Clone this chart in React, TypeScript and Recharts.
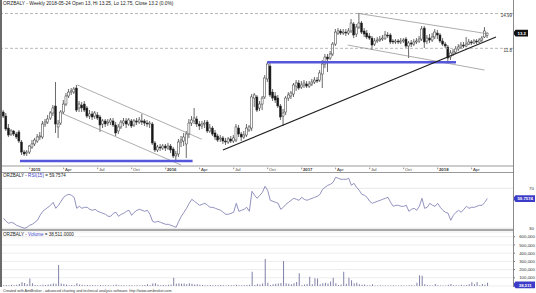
import React from "react";
import { ComposedChart, Bar, Line, XAxis, YAxis, ReferenceLine, CartesianGrid } from "recharts";

const ticker = "ORZBALY";
const lastDate = "2018-05-24";

// weekly OHLC, oldest first (late Oct 2014 -> 2018-05-21)
const opens = [
  5.96, 5.59, 4.49, 3.94, 4.22, 3.94, 4.13, 3.21, 2.29, 2.2,
  2.29, 2.75, 3.03, 3.3, 3.67, 3.67, 4.86, 5.04, 5.41, 5.87,
  6.51, 4.59, 4.95, 5.96, 6.69, 7.43, 7.79, 7.79, 8.16, 6.33,
  6.6, 6.69, 6.33, 5.59, 5.78, 5.59, 5.69, 5.5, 4.86, 5.14,
  4.95, 5.04, 5.14, 4.77, 4.22, 4.59, 4.95, 5.14, 4.86, 5.14,
  4.77, 5.14, 5.04, 5.14, 5.14, 4.95, 4.86, 4.86, 3.12, 2.48,
  2.75, 2.66, 2.84, 2.66, 2.84, 2.57, 1.93, 2.11, 3.21, 3.3,
  3.03, 3.94, 4.95, 5.14, 5.32, 4.86, 4.68, 4.86, 5.04, 4.22,
  4.49, 4.04, 3.76, 3.49, 3.58, 3.3, 3.21, 3.49, 3.3, 3.39,
  4.49, 3.94, 3.67, 3.85, 4.31, 4.49, 7.24, 7.34, 6.33, 6.69,
  7.34, 8.99, 10.18, 7.79, 7.43, 7.24, 6.51, 5.59, 5.96, 7.24,
  7.43, 7.61, 8.34, 8.62, 8.25, 8.44, 8.53, 8.34, 8.53, 8.71,
  8.89, 8.89, 9.44, 10.36, 11.0, 10.91, 11.28, 12.19, 13.2, 13.39,
  13.2, 13.29, 13.2, 13.39, 14.03, 13.11, 13.75, 14.12, 13.39, 13.2,
  12.93, 12.74, 12.19, 12.47, 12.56, 12.65, 12.74, 13.02, 13.02, 12.47,
  12.38, 12.47, 12.38, 12.47, 12.65, 12.01, 12.29, 12.19, 12.38, 12.47,
  12.65, 13.66, 12.47, 12.74, 12.56, 12.84, 13.2, 13.02, 12.47, 12.19,
  11.92, 11.0, 11.28, 11.46, 11.74, 11.92, 12.1, 12.01, 12.19, 12.38,
  12.29, 12.47, 12.38, 12.56, 12.84, 13,
];
const highs = [
  6.14, 5.87, 4.86, 4.4, 4.31, 4.13, 4.31, 3.39, 2.48, 2.48,
  2.94, 3.39, 3.58, 3.94, 4.13, 5.14, 5.32, 5.69, 6.05, 6.6,
  8.71, 5.23, 6.14, 7.06, 7.7, 8.07, 8.16, 8.25, 8.44, 6.97,
  6.88, 6.97, 6.51, 6.14, 6.05, 6.05, 5.96, 5.69, 5.32, 5.32,
  5.32, 5.41, 5.41, 5.04, 4.86, 5.23, 5.41, 5.41, 5.41, 5.32,
  5.32, 5.41, 5.5, 5.78, 5.32, 5.23, 5.14, 5.04, 3.3, 2.94,
  3.03, 3.03, 3.03, 3.12, 3.03, 2.75, 2.39, 3.49, 3.76, 4.04,
  4.22, 5.32, 5.59, 6.33, 5.59, 5.14, 5.14, 5.23, 5.23, 4.86,
  4.68, 4.31, 3.94, 3.85, 3.76, 3.58, 3.67, 3.76, 3.85, 4.86,
  4.77, 4.13, 4.22, 4.86, 4.77, 7.61, 7.7, 7.52, 6.97, 7.43,
  9.35, 10.54, 10.45, 8.07, 7.79, 7.52, 6.69, 6.24, 7.43, 7.79,
  7.89, 8.62, 8.89, 8.89, 8.8, 8.89, 8.8, 8.8, 8.99, 9.17,
  9.17, 9.81, 10.73, 11.28, 11.28, 11.55, 12.38, 13.57, 13.66, 13.57,
  13.57, 13.57, 13.66, 14.49, 14.21, 14.03, 15.04, 14.3, 13.66, 13.48,
  13.2, 12.93, 12.74, 12.84, 12.93, 13.02, 13.39, 13.29, 13.2, 12.65,
  12.65, 12.65, 12.74, 12.74, 12.84, 12.47, 12.56, 12.65, 12.74, 12.93,
  13.84, 13.84, 13.02, 13.11, 13.2, 13.57, 13.48, 13.2, 12.74, 12.38,
  12.1, 11.64, 11.74, 12.01, 12.19, 12.38, 12.38, 12.84, 12.65, 12.56,
  12.65, 12.65, 12.74, 12.93, 13.75, 13.25,
];
const lows = [
  5.41, 4.22, 3.67, 3.76, 3.76, 3.49, 3.12, 2.02, 1.93, 1.93,
  2.11, 2.57, 2.84, 3.12, 3.39, 3.49, 4.59, 4.86, 5.23, 5.59,
  4.04, 3.58, 4.77, 5.78, 6.51, 7.24, 7.52, 7.61, 5.96, 5.96,
  5.96, 5.96, 5.41, 5.32, 5.23, 5.32, 5.23, 4.13, 4.49, 4.59,
  4.68, 4.77, 4.59, 3.76, 3.94, 4.4, 4.68, 4.49, 4.68, 4.49,
  4.59, 4.77, 4.86, 4.77, 4.68, 4.59, 4.49, 2.94, 2.29, 2.29,
  2.39, 2.48, 2.39, 2.48, 2.2, 1.74, 1.56, 1.84, 2.75, 2.84,
  1.74, 3.58, 4.68, 4.86, 4.59, 4.31, 4.4, 4.49, 4.04, 4.04,
  3.76, 3.39, 3.21, 3.21, 3.03, 2.94, 3.03, 3.12, 3.12, 3.21,
  3.67, 3.3, 3.49, 3.67, 4.13, 4.22, 6.42, 5.96, 6.05, 6.14,
  7.15, 8.71, 7.34, 6.97, 6.79, 6.33, 5.23, 4.68, 5.69, 6.97,
  7.15, 7.34, 7.89, 7.98, 8.07, 8.16, 8.16, 8.16, 8.34, 8.53,
  8.62, 8.71, 8.16, 9.99, 9.63, 10.73, 11.09, 12.01, 13.02, 13.02,
  13.02, 12.93, 13.02, 13.2, 12.74, 12.84, 13.57, 13.11, 12.84, 12.65,
  12.56, 11.64, 12.01, 12.29, 12.38, 12.47, 12.56, 12.74, 12.19, 12.19,
  12.19, 12.19, 12.19, 12.29, 11.83, 10.91, 11.92, 12.01, 12.19, 12.29,
  12.47, 11.83, 12.19, 12.29, 12.38, 12.65, 12.65, 12.29, 12.01, 11.83,
  10.54, 10.73, 11.09, 11.28, 11.55, 11.74, 11.83, 11.92, 12.1, 12.1,
  12.19, 12.19, 12.29, 12.38, 12.74, 12.75,
];
const closes = [
  5.59, 4.4, 3.85, 4.22, 3.94, 3.67, 3.3, 2.29, 2.11, 2.29,
  2.84, 3.03, 3.39, 3.67, 3.76, 4.86, 5.04, 5.32, 5.87, 6.33,
  4.86, 4.86, 5.96, 6.69, 7.43, 7.79, 7.89, 8.07, 6.14, 6.69,
  6.33, 6.14, 5.59, 5.78, 5.5, 5.87, 5.41, 4.77, 5.14, 4.86,
  5.04, 5.23, 4.77, 4.04, 4.59, 5.04, 5.14, 4.86, 5.23, 4.68,
  5.14, 5.04, 5.23, 5.04, 4.95, 4.86, 4.95, 3.12, 2.48, 2.75,
  2.66, 2.84, 2.66, 2.84, 2.48, 1.93, 2.11, 3.21, 3.39, 3.67,
  3.94, 4.95, 5.23, 5.41, 4.86, 4.68, 4.86, 4.95, 4.22, 4.49,
  3.94, 3.67, 3.39, 3.58, 3.3, 3.21, 3.49, 3.3, 3.58, 4.59,
  3.94, 3.67, 3.85, 4.49, 4.59, 7.34, 7.52, 6.14, 6.69, 7.24,
  9.08, 10.36, 7.52, 7.24, 7.06, 6.51, 5.5, 5.87, 7.24, 7.52,
  7.7, 8.44, 8.62, 8.16, 8.44, 8.62, 8.34, 8.53, 8.71, 8.89,
  8.8, 9.54, 10.36, 11.0, 10.82, 11.28, 12.19, 13.29, 13.39, 13.2,
  13.29, 13.2, 13.39, 14.12, 13.02, 13.75, 14.12, 13.29, 13.11, 12.84,
  12.74, 12.1, 12.47, 12.56, 12.65, 12.74, 13.02, 12.93, 12.38, 12.38,
  12.47, 12.38, 12.47, 12.56, 12.01, 12.29, 12.19, 12.38, 12.47, 12.65,
  13.57, 12.38, 12.74, 12.56, 12.84, 13.29, 13.02, 12.47, 12.19, 12.01,
  10.91, 11.37, 11.46, 11.74, 11.92, 12.1, 12.01, 12.19, 12.38, 12.29,
  12.47, 12.38, 12.56, 12.74, 13.39, 13.2,
];

const rsi15 = [
  40, 37, 35, 36, 35, 33, 32, 31, 30, 31,
  33, 34, 36, 38, 43, 47, 49, 51, 53, 56,
  50, 53, 57, 61, 63, 64, 63, 61, 50, 52,
  50, 51, 51, 49, 48, 49, 47, 46, 45, 44,
  42, 42, 45, 46, 42, 44, 45, 47, 48, 43,
  46, 48, 49, 48, 47, 48, 44, 37, 36, 37,
  36, 35, 34, 34, 33, 32, 31, 37, 42, 46,
  50, 55, 59, 57, 55, 53, 54, 55, 53, 51,
  51, 50, 49, 48, 46, 44, 44, 45, 46, 55,
  47, 48, 49, 51, 47, 67, 63, 60, 63, 66,
  72, 68, 58, 57, 56, 55, 49, 51, 54, 56,
  58, 60, 59, 58, 61, 59, 58, 59, 60, 61,
  62, 64, 69, 71, 73, 74, 76, 81, 80, 79,
  79, 79, 80, 73, 75, 71, 68, 64, 63, 61,
  57, 55, 56, 57, 58, 59, 60, 61, 56, 52,
  53, 53, 52, 52, 53, 47, 49, 50, 48, 52,
  60, 50, 51, 55, 53, 52, 55, 51, 48, 46,
  45, 38, 43, 46, 48, 46, 49, 52, 50, 51,
  51, 52, 53, 53, 56, 59.7574,
];

const volumes = [
  8000, 12000, 10000, 14000, 9000, 16000, 25000, 45000, 38000, 20000,
  92000, 35000, 12000, 10000, 8000, 15000, 12000, 18000, 22000, 30000,
  28000, 255000, 30000, 25000, 18000, 10000, 12000, 8000, 32000, 18000,
  14000, 10000, 12000, 8000, 9000, 10000, 7000, 12000, 9000, 8000,
  10000, 7000, 9000, 18000, 10000, 8000, 9000, 7000, 8000, 10000,
  6000, 9000, 7000, 8000, 12000, 20000, 10000, 30000, 32000, 14000,
  10000, 12000, 9000, 14000, 18000, 100000, 28000, 32000, 26000, 30000,
  20000, 35000, 28000, 18000, 20000, 14000, 12000, 10000, 9000, 12000,
  10000, 8000, 9000, 12000, 10000, 7000, 9000, 8000, 10000, 14000,
  9000, 8000, 10000, 12000, 14000, 173000, 12000, 25000, 18000, 30000,
  328000, 40000, 12000, 20000, 28000, 30000, 38000, 304000, 35000, 28000,
  20000, 32000, 48000, 154000, 10000, 18000, 25000, 113000, 20000, 95000,
  90000, 20000, 35000, 40000, 30000, 55000, 100000, 35000, 12000, 18000,
  173000, 28000, 100000, 70000, 35000, 40000, 20000, 15000, 18000, 10000,
  8000, 20000, 6000, 5000, 8000, 6000, 5000, 7000, 6000, 8000,
  7000, 6000, 8000, 7000, 6000, 10000, 8000, 7000, 40000, 130000,
  125000, 20000, 8000, 10000, 6000, 25000, 8000, 6000, 5000, 7000,
  15000, 25000, 8000, 10000, 6000, 15000, 8000, 12000, 20000, 45000,
  20000, 50000, 10000, 25000, 15000, 38511,
];

// first week of each quarter, as week index
const dateTicks = [10, 23, 36, 49, 62, 75, 88, 101, 114, 127, 140, 153, 166, 179];
const dateLabels = ["2015", "Apr", "Jul", "Oct", "2016", "Apr", "Jul", "Oct", "2017", "Apr", "Jul", "Oct", "2018", "Apr"];

const priceTicks = [11.8, 14.99];
const rsiTicks = [30, 70];
const volumeTicks = [100000, 200000, 300000, 400000, 500000, 600000];

// hand drawn studies, in (week index, price)
const supportBands = [
  [{ x: 6.3, y: 1.47 }, { x: 72.3, y: 1.47 }],
  [{ x: 100.8, y: 10.52 }, { x: 173, y: 10.52 }],
];
const trendLine = [{ x: 83.9, y: 2.48 }, { x: 188.3, y: 12.84 }];
const channelLines = [
  [{ x: 28.2, y: 8.44 }, { x: 75.8, y: 3.46 }],
  [{ x: 22.3, y: 5.84 }, { x: 67.9, y: 1.1 }],
  [{ x: 135.4, y: 15.01 }, { x: 184.1, y: 13.17 }],
  [{ x: 131.6, y: 12.1 }, { x: 183.9, y: 9.81 }],
];

const FONT = "Arial, 'Liberation Sans', sans-serif";
const X_DOMAIN: [number, number] = [-0.57, 194.8];
const last = closes.length - 1;

const candles = opens.map((o, i) => ({
  i,
  range: [lows[i], highs[i]],
  open: o,
  high: highs[i],
  low: lows[i],
  close: closes[i],
}));
const rsiData = rsi15.map((v, i) => ({ i, rsi: v }));
const volData = volumes.map((v, i) => ({ i, vol: v }));

const Candle = (props: any) => {
  const { x, y, width, height, payload } = props;
  if (x == null || !payload) return null;
  const top = Math.min(y, y + height);
  const h = Math.abs(height);
  const cx = x + width / 2;
  const k = payload.high === payload.low ? 0 : h / (payload.high - payload.low);
  const yO = top + (payload.high - payload.open) * k;
  const yC = top + (payload.high - payload.close) * k;
  const up = payload.close >= payload.open;
  const bTop = Math.min(yO, yC);
  const bH = Math.max(Math.abs(yC - yO), 0.8);
  return (
    <g>
      <line x1={cx} x2={cx} y1={top} y2={top + h} stroke="#2a2a2a" strokeWidth={0.7} />
      <rect x={cx - 1} y={bTop} width={2} height={bH} fill={up ? "#fff" : "#151515"} stroke="#333" strokeWidth={0.5} />
    </g>
  );
};

const DateTick = (props: any) => {
  const { x, y, payload } = props;
  const label = dateLabels[dateTicks.indexOf(payload.value)] ?? "";
  const isYear = /^\d{4}$/.test(label);
  return (
    <g>
      <line x1={x} x2={x} y1={y + 1.6} y2={y + 3.2} stroke="#444" strokeWidth={0.6} />
      <text x={x + 1.3} y={y + 5.2} fontSize={4.3} fontWeight={isYear ? 700 : 400} fill="#333" fontFamily={FONT}>
        {label}
      </text>
    </g>
  );
};

const PriceTick = (props: any) => (
  <text x={props.x - 1} y={props.y + 3.2} textAnchor="end" fontSize={4.5} fill="#333" fontFamily={FONT}>
    {props.payload.value}
  </text>
);

const RightTick = (props: any) => (
  <text x={props.x + 20} y={props.y + 1.6} textAnchor="end" fontSize={4.4} fill="#333" fontFamily={FONT}>
    {Number(props.payload.value).toLocaleString("en-US")}
  </text>
);

const ValueTag = ({ viewBox, text, fill, w }: any) => {
  if (!viewBox) return null;
  const x = viewBox.x + viewBox.width;
  const y = viewBox.y;
  return (
    <g>
      <path d={`M${x},${y} L${x + 2.5},${y - 3.4} L${x + w},${y - 3.4} L${x + w},${y + 3.4} L${x + 2.5},${y + 3.4} Z`} fill={fill} />
      <text x={x + 2.5 + (w - 2.5) / 2} y={y + 1.7} textAnchor="middle" fontSize={4.3} fontWeight={700} fill="#fff" fontFamily={FONT}>
        {text}
      </text>
    </g>
  );
};

const hLine = (top: number, h: number, color: string, width = 513): React.CSSProperties => ({
  position: "absolute", left: 0, top, width, height: h, background: color,
});

export default function App() {
  const lastVol = volumes[last];
  return (
    <div style={{ position: "absolute", left: 0, top: 0, width: 536, height: 293, background: "#fff", overflow: "hidden" }}>
      <div style={{ position: "absolute", left: 0, top: 0 }}>
        <ComposedChart width={536} height={174} data={candles} margin={{ top: 6, right: 0, bottom: 0, left: 2 }}>
          <XAxis dataKey="i" type="number" domain={X_DOMAIN} allowDataOverflow ticks={dateTicks} interval={0}
            height={8} tickLine={false} tickSize={0} tickMargin={0} axisLine={{ stroke: "#9a9a9a" }} tick={(p: any) => <DateTick {...p} />} />
          <YAxis orientation="right" width={23} type="number" domain={[1.01, 15.68]} allowDataOverflow ticks={priceTicks} interval={0}
            axisLine={false} tickLine={false} tickSize={0} tickMargin={0} tick={(p: any) => <PriceTick {...p} />} />
          {priceTicks.map((t) => (
            <ReferenceLine key={t} y={t} stroke="#9a9a9a" strokeWidth={0.7} strokeDasharray="3 2" />
          ))}
          {channelLines.map((s, k) => (
            <ReferenceLine key={"c" + k} segment={s} ifOverflow="hidden" stroke="#8a8a8a" strokeWidth={0.7} />
          ))}
          {supportBands.map((s, k) => (
            <ReferenceLine key={"s" + k} segment={s} ifOverflow="hidden" stroke="#5656dc" strokeWidth={2.6} />
          ))}
          <ReferenceLine segment={trendLine} ifOverflow="hidden" stroke="#1e1e1e" strokeWidth={1.1} />
          <Bar dataKey="range" barSize={2} shape={(p: any) => <Candle {...p} />} isAnimationActive={false} />
          <ReferenceLine y={closes[last]} stroke="none"
            label={(p: any) => <ValueTag viewBox={p.viewBox} text={String(closes[last])} fill="#111" w={15} />} />
        </ComposedChart>
      </div>

      <div style={{ position: "absolute", left: 0, top: 172 }}>
        <ComposedChart width={536} height={58} data={rsiData} margin={{ top: 1, right: 0, bottom: 0, left: 2 }}>
          <XAxis dataKey="i" type="number" domain={X_DOMAIN} allowDataOverflow hide />
          <YAxis orientation="right" width={23} type="number" domain={[28.3, 85.3]} allowDataOverflow ticks={rsiTicks} interval={0}
            axisLine={false} tickLine={false} tickSize={0} tickMargin={0} tick={(p: any) => <RightTick {...p} x={p.x + 1} />} />
          {rsiTicks.map((t) => (
            <ReferenceLine key={t} y={t} stroke="#e2e2e2" strokeWidth={0.8} />
          ))}
          <Line dataKey="rsi" type="linear" stroke="#8686b8" strokeWidth={0.9} dot={false} isAnimationActive={false} />
          <ReferenceLine y={rsi15[last]} stroke="none"
            label={(p: any) => <ValueTag viewBox={p.viewBox} text={rsi15[last].toFixed(4)} fill="#3c3cc8" w={22} />} />
        </ComposedChart>
      </div>

      <div style={{ position: "absolute", left: 0, top: 231 }}>
        <ComposedChart width={536} height={60} data={volData} margin={{ top: 1, right: 0, bottom: 5, left: 2 }}>
          <CartesianGrid vertical={false} stroke="#e8e8e8" strokeWidth={0.8} />
          <XAxis dataKey="i" type="number" domain={X_DOMAIN} allowDataOverflow hide />
          <YAxis orientation="right" width={23} type="number" domain={[0, 658000]} allowDataOverflow ticks={volumeTicks} interval={0}
            axisLine={false} tickLine={{ stroke: "#777" }} tickSize={2} tickMargin={0} tick={(p: any) => <RightTick {...p} />} />
          <Bar dataKey="vol" barSize={1} fill="#8080a8" isAnimationActive={false} />
          <ReferenceLine y={lastVol} stroke="none"
            label={(p: any) => <ValueTag viewBox={{ ...p.viewBox, y: p.viewBox.y + 2 }} text={lastVol.toLocaleString("en-US")} fill="#3c3cc8" w={22} />} />
        </ComposedChart>
      </div>

      {/* panel frames */}
      <div style={hLine(172, 1, "#9a9a9a")} />
      <div style={hLine(229, 2, "#a8a8a8")} />
      <div style={{ position: "absolute", left: 512.5, top: 0, width: 1, height: 287, background: "#8a8a8a" }} />
      <div style={{ position: "absolute", left: 0, top: 0, width: 1.5, height: 287, background: "#6a6a6a" }} />

      <svg width={536} height={293} style={{ position: "absolute", left: 0, top: 0, pointerEvents: "none" }} fontFamily={FONT}>
        <text x={3} y={5} fontSize={4.8} fill="#222">
          {`${ticker} - Weekly ${lastDate} Open ${opens[last]}, Hi ${highs[last]}, Lo ${lows[last]}, Close ${closes[last]} (0.0%)`}
        </text>
        <text x={3} y={177.4} fontSize={4.6} fill="#222">
          {`${ticker} - `}
          <tspan fill="#4040c8">RSI(15)</tspan>
          {` = ${rsi15[last].toFixed(4)}`}
        </text>
        <text x={3} y={235.8} fontSize={4.6} fill="#222">
          {`${ticker} - `}
          <tspan fill="#4040c8">Volume</tspan>
          {` = ${lastVol.toLocaleString("en-US", { minimumFractionDigits: 4 })}`}
        </text>
        <text x={3} y={292} fontSize={3.7} fill="#333">
          Created with AmiBroker - advanced charting and technical analysis software. http://www.amibroker.com
        </text>
      </svg>
    </div>
  );
}
